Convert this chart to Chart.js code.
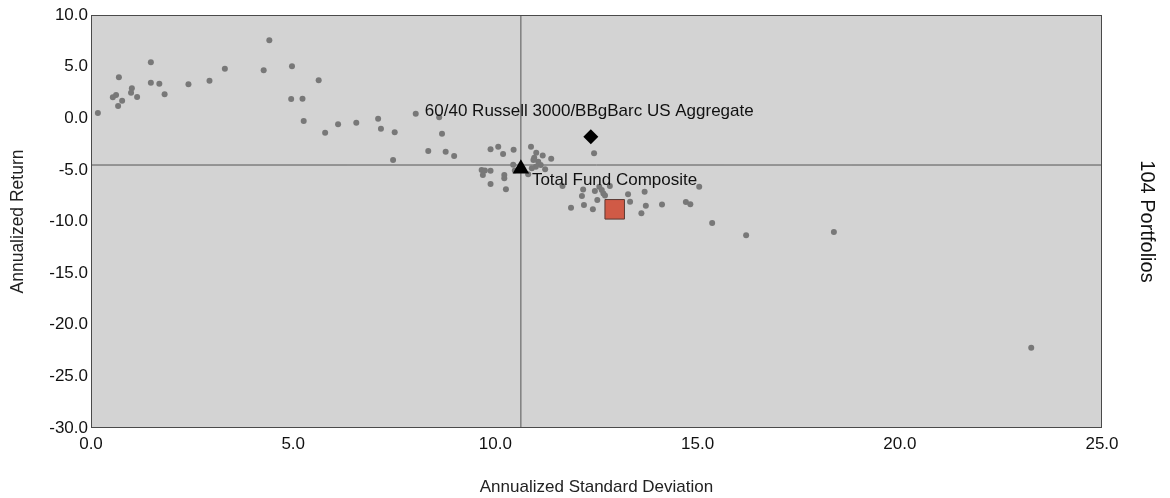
<!DOCTYPE html>
<html>
<head>
<meta charset="utf-8">
<script src="https://cdn.jsdelivr.net/npm/chart.js@4.4.0/dist/chart.umd.min.js"></script>
<style>
html, body { margin: 0; padding: 0; background: #fff; }
#wrap { width: 1170px; height: 498px; }
</style>
</head>
<body>
<div id="wrap"><canvas id="myChart" width="1170" height="498"></canvas></div>
<script>
// universe of portfolios (std dev, return)
const portfolioStdDev = [
    0.17, 0.54, 0.62, 0.69, 0.67, 0.77, 1.01, 0.99, 1.14, 1.48,
    1.48, 1.69, 1.82, 2.41, 2.93, 3.31, 4.27, 4.41, 4.97, 4.95,
    5.23, 5.26, 5.63, 5.79, 6.11, 6.56, 7.10, 7.17, 7.51, 7.47,
    8.03, 8.61, 8.68, 8.34, 8.77, 8.98, 9.88, 10.07, 10.19, 10.45,
    10.88, 11.01, 11.17, 11.38, 12.44, 10.96, 11.06, 11.12, 11.00, 10.90,
    11.23, 10.81, 10.44, 10.48, 9.66, 9.74, 9.88, 9.69, 10.22, 10.22,
    9.88, 10.26, 11.66, 11.87, 12.14, 12.17, 12.19, 12.41, 12.46, 12.52,
    12.57, 12.63, 12.67, 12.71, 12.83, 13.28, 13.33, 13.69, 13.72, 13.61,
    14.12, 14.71, 14.82, 15.04, 15.36, 16.20, 18.37, 23.25, 10.94
];
const portfolioReturn = [
    0.51, 2.03, 2.25, 3.97, 1.19, 1.70, 2.90, 2.47, 2.06, 5.42,
    3.44, 3.35, 2.32, 3.29, 3.64, 4.80, 4.64, 7.55, 5.03, 1.86,
    1.89, -0.27, 3.68, -1.40, -0.59, -0.43, -0.04, -1.01, -1.36, -4.04,
    0.44, 0.09, -1.50, -3.17, -3.24, -3.66, -3.01, -2.76, -3.46, -3.05,
    -2.76, -3.34, -3.61, -3.93, -3.39, -3.82, -4.21, -4.53, -4.69, -4.85,
    -4.94, -5.43, -4.50, -5.06, -5.01, -5.06, -5.08, -5.50, -5.50, -5.82,
    -6.37, -6.88, -6.56, -8.66, -7.53, -6.90, -8.40, -8.82, -7.05, -7.92,
    -6.63, -6.95, -7.29, -7.48, -6.56, -7.36, -8.08, -7.11, -8.47, -9.21,
    -8.35, -8.11, -8.33, -6.63, -10.15, -11.34, -11.02, -22.22, -4.05
];

// highlighted items
const markerNames = ['Total Fund Composite', '60/40 Russell 3000/BBgBarc US Aggregate', 'Policy'];
const markerStdDev = [10.63, 12.36, 12.95];
const markerReturn = [-4.90, -1.80, -8.82];

// median cross lines
const medianStdDev = 10.63;
const medianReturn = -4.53;

const xTicks = [0, 5, 10, 15, 20, 25];
const yTicks = [-30, -25, -20, -15, -10, -5, 0, 5, 10];

const portfolioCount = '104 Portfolios';

const universe = portfolioStdDev.map((x, i) => ({ x: x, y: portfolioReturn[i] }));

const plotArea = {
    id: 'plotArea',
    beforeDatasetsDraw(chart) {
        const { ctx, chartArea: a } = chart;
        ctx.save();
        ctx.fillStyle = '#d3d3d3';
        ctx.fillRect(a.left, a.top, a.right - a.left, a.bottom - a.top);
        ctx.restore();
    },
    afterDatasetsDraw(chart) {
        const { ctx, chartArea: a } = chart;
        ctx.save();
        ctx.strokeStyle = '#4a4a4a';
        ctx.lineWidth = 1;
        ctx.strokeRect(a.left + 0.5, a.top + 0.5, a.right - a.left - 1, a.bottom - a.top - 1);
        ctx.restore();
    }
};

const fontFamily = '"Liberation Sans", Arial, sans-serif';

// text next to the labelled markers
const labelOffsets = [[11, 11], [-166, -26]];
const markerLabels = {
    id: 'markerLabels',
    afterDatasetsDraw(chart) {
        const { ctx, scales } = chart;
        ctx.save();
        ctx.font = '17px ' + fontFamily;
        ctx.fillStyle = '#111';
        ctx.textBaseline = 'middle';
        ctx.textAlign = 'left';
        labelOffsets.forEach((o, i) => {
            const px = scales.x.getPixelForValue(markerStdDev[i]);
            const py = scales.y.getPixelForValue(markerReturn[i]);
            ctx.fillText(markerNames[i], px + o[0], py + o[1]);
        });
        ctx.restore();
    }
};

const tickFmt = v => Number(v).toFixed(1);

// chart.js paints the first dataset on top, so markers come first
new Chart(document.getElementById('myChart'), {
    type: 'scatter',
    data: {
        datasets: [
            {
                data: [{ x: markerStdDev[0], y: markerReturn[0] }],
                pointStyle: 'triangle',
                pointRadius: 9.5,
                backgroundColor: '#000',
                borderColor: '#000',
                borderWidth: 0
            },
            {
                data: [{ x: markerStdDev[1], y: markerReturn[1] }],
                pointStyle: 'rectRot',
                pointRadius: 7.5,
                backgroundColor: '#000',
                borderColor: '#000',
                borderWidth: 0
            },
            {
                data: [{ x: markerStdDev[2], y: markerReturn[2] }],
                pointStyle: 'rect',
                pointRadius: 13.8,
                backgroundColor: '#d05a46',
                borderColor: '#5a3a34',
                borderWidth: 1
            },
            {
                data: universe,
                backgroundColor: '#787878',
                borderColor: '#787878',
                borderWidth: 0,
                pointRadius: 3
            },
            {
                data: [{ x: medianStdDev, y: -30 }, { x: medianStdDev, y: 10 }],
                showLine: true,
                borderColor: '#555',
                borderWidth: 1,
                pointRadius: 0
            },
            {
                data: [{ x: 0, y: medianReturn }, { x: 25, y: medianReturn }],
                showLine: true,
                borderColor: '#555',
                borderWidth: 1,
                pointRadius: 0
            }
        ]
    },
    options: {
        responsive: false,
        animation: false,
        layout: { padding: { top: 15, right: 0, left: 0, bottom: 0 } },
        plugins: {
            legend: { display: false },
            tooltip: { enabled: false }
        },
        scales: {
            x: {
                type: 'linear',
                min: 0,
                max: 25,
                afterBuildTicks: s => { s.ticks = xTicks.map(v => ({ value: v })); },
                afterFit: s => { s.height = 70; },
                grid: { display: false, drawTicks: false },
                border: { display: false },
                ticks: {
                    callback: tickFmt,
                    autoSkip: false,
                    color: '#111',
                    padding: 6,
                    maxRotation: 0,
                    font: { family: fontFamily, size: 17 }
                },
                title: {
                    display: true,
                    text: 'Annualized Standard Deviation',
                    color: '#222',
                    padding: { top: 4, bottom: 0 },
                    font: { family: fontFamily, size: 17 }
                }
            },
            y: {
                type: 'linear',
                min: -30,
                max: 10,
                afterBuildTicks: s => { s.ticks = yTicks.map(v => ({ value: v })); },
                afterFit: s => { s.width = 91; },
                grid: { display: false, drawTicks: false },
                border: { display: false },
                ticks: {
                    callback: tickFmt,
                    autoSkip: false,
                    color: '#111',
                    padding: 3,
                    font: { family: fontFamily, size: 17 }
                },
                title: {
                    display: true,
                    text: 'Annualized Return',
                    color: '#222',
                    padding: { top: 8, bottom: 0 },
                    font: { family: fontFamily, size: 17.5 }
                }
            },
            y2: {
                type: 'linear',
                position: 'right',
                min: -30,
                max: 10,
                afterFit: s => { s.width = 68; },
                grid: { display: false, drawTicks: false },
                border: { display: false },
                ticks: { display: false },
                title: {
                    display: true,
                    text: portfolioCount,
                    color: '#111',
                    padding: { top: 11, bottom: 0 },
                    font: { family: fontFamily, size: 20 }
                }
            }
        }
    },
    plugins: [plotArea, markerLabels]
});
</script>
</body>
</html>
